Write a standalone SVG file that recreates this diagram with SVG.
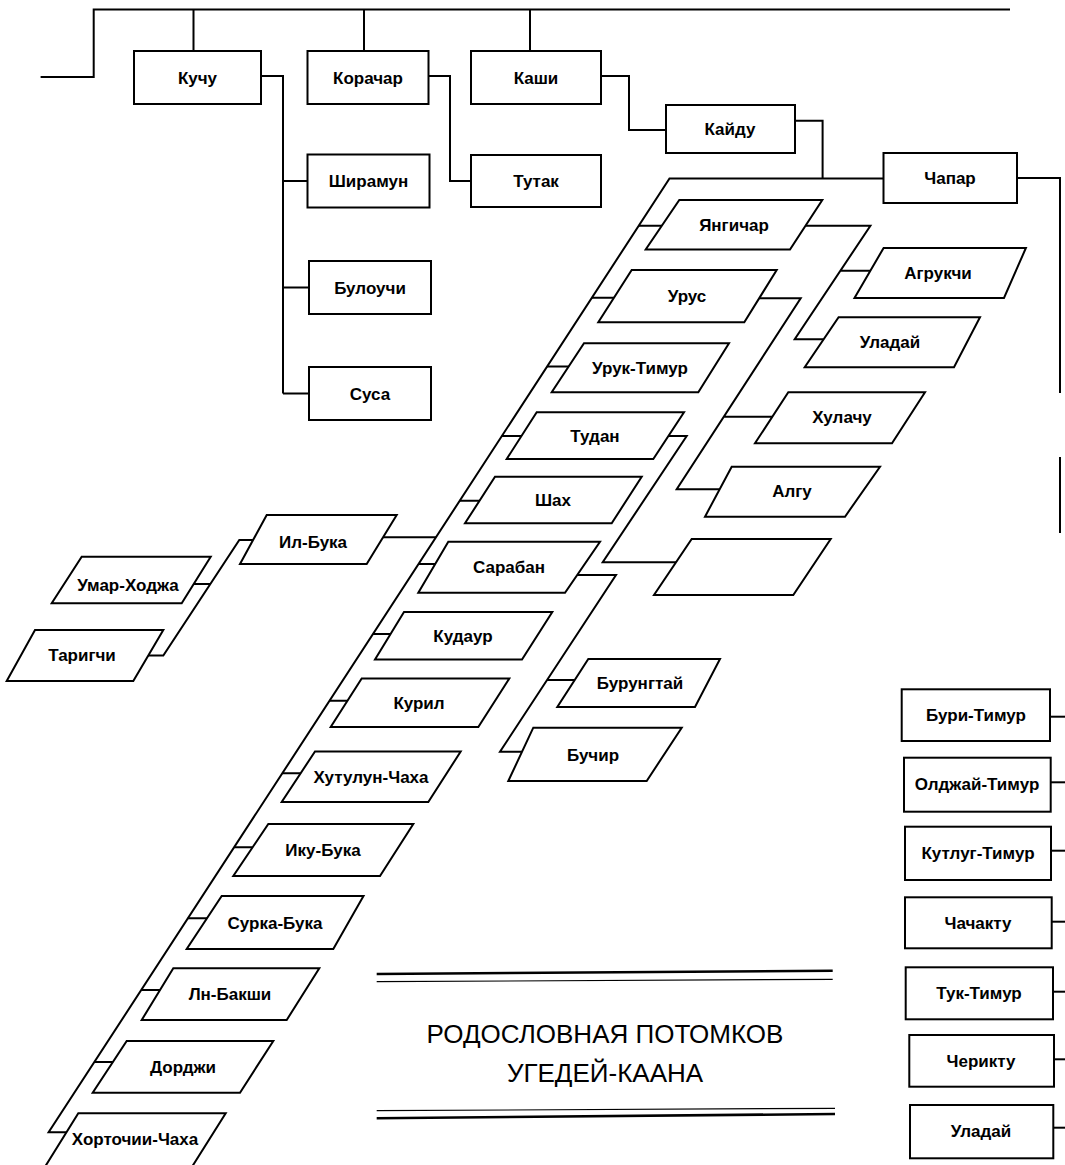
<svg xmlns="http://www.w3.org/2000/svg" width="1065" height="1165" viewBox="0 0 1065 1165">
<style>
.bx{fill:#fff;stroke:#000;stroke-width:2;stroke-linejoin:miter}
.ln{fill:none;stroke:#000;stroke-width:2;stroke-linejoin:miter}
.t{font-family:"Liberation Sans",Arial,sans-serif;font-size:17px;font-weight:bold;text-anchor:middle;fill:#000}
.ti{font-family:"Liberation Sans",Arial,sans-serif;font-size:26px;text-anchor:middle;fill:#000}
</style>
<rect width="1065" height="1165" fill="#fff"/>
<g id="connectors">
<path class="ln" d="M40.6,77 H93.7 V9.5 H1010"/>
<path class="ln" d="M193.5,9.5 V51 M364,9.5 V51 M530,9.5 V51"/>
<path class="ln" d="M261,76 H283 V393.5 M283,181 H307.5 M283,287.5 H309 M283,393.5 H309"/>
<path class="ln" d="M428.5,76 H450 V181 H471"/>
<path class="ln" d="M601,76 H629 V130 H666"/>
<path class="ln" d="M795,120.7 H822.6 V178.5"/>
<path class="ln" d="M883.5,178.5 H669.5 L48.6,1132.3 H66.7"/>
<path class="ln" d="M1017,178 H1060 V393 M1060,457 V533"/>
<path class="ln" d="M638.8,225.7 H661.9 M591.9,297.7 H614 M547.1,366.5 H568.7 M501.9,436 H521.5 M459.7,500.7 H479.5 M418.5,564 H435.2 M373,634 H390.6 M329.5,700.7 H347.5 M282.3,773.3 H300.6 M234.1,847.3 H252.6 M187.9,918.3 H207 M141.2,990 H160 M94.3,1062 H112.9"/>
<path class="ln" d="M383,537.3 H436"/>
<path class="ln" d="M253,540 H239.3 L163.3,655.5 H148 M193.7,584 H210.5"/>
<path class="ln" d="M805.5,225.7 H870.4 L794.7,339.3 H823.7 M840.4,270.7 H870.4"/>
<path class="ln" d="M759.2,298.3 H800.7 L676.7,489.3 H719.6 M723.8,416.7 H772.4"/>
<path class="ln" d="M668.4,436 H686.7 L602.7,562.3 H676"/>
<path class="ln" d="M577,575 H616 L500,751.7 H522.2 M547.1,680 H575"/>
</g>
<g id="n-kuchu"><rect class="bx" x="134" y="51" width="127" height="53"/><text class="t" x="197.5" y="83.5">Кучу</text></g>
<g id="n-korachar"><rect class="bx" x="307.5" y="51" width="121" height="53"/><text class="t" x="368" y="83.5">Корачар</text></g>
<g id="n-kashi"><rect class="bx" x="471" y="51" width="130" height="53"/><text class="t" x="536" y="83.5">Каши</text></g>
<g id="n-shiramun"><rect class="bx" x="307.5" y="154.5" width="122" height="53"/><text class="t" x="368.5" y="187">Ширамун</text></g>
<g id="n-buluochi"><rect class="bx" x="309" y="261" width="122" height="53"/><text class="t" x="370" y="293.5">Булоучи</text></g>
<g id="n-susa"><rect class="bx" x="309" y="367" width="122" height="53"/><text class="t" x="370" y="399.5">Суса</text></g>
<g id="n-tutak"><rect class="bx" x="471" y="155" width="130" height="52"/><text class="t" x="536" y="187">Тутак</text></g>
<g id="n-kaydu"><rect class="bx" x="666" y="105" width="129" height="48"/><text class="t" x="730" y="135">Кайду</text></g>
<g id="n-chapar"><rect class="bx" x="883.5" y="153" width="133.5" height="50"/><text class="t" x="950" y="184">Чапар</text></g>
<g id="n-yangichar"><polygon class="bx" points="679.3,200 822.3,200 790,249.5 645.7,249.5"/><text class="t" x="734" y="231">Янгичар</text></g>
<g id="n-urus"><polygon class="bx" points="631.7,270 776.7,270 744.3,322.3 598.3,322.3"/><text class="t" x="687" y="302">Урус</text></g>
<g id="n-uruk-timur"><polygon class="bx" points="584,343.3 729,343.3 698.3,392.3 551.7,392.3"/><text class="t" x="640" y="374">Урук-Тимур</text></g>
<g id="n-tudan"><polygon class="bx" points="536.7,412.3 684,412.3 653.3,459 506.7,459"/><text class="t" x="595" y="442">Тудан</text></g>
<g id="n-shah"><polygon class="bx" points="495,476.7 641.7,476.7 611.7,523.3 465,523.3"/><text class="t" x="553" y="506">Шах</text></g>
<g id="n-saraban"><polygon class="bx" points="448.3,541.7 600,541.7 565,592.7 418.3,592.7"/><text class="t" x="509" y="573">Сарабан</text></g>
<g id="n-kudaur"><polygon class="bx" points="404,612 552.3,612 522,659.5 375,659.5"/><text class="t" x="463" y="642">Кудаур</text></g>
<g id="n-kuril"><polygon class="bx" points="361.7,678.5 509.3,678.5 478.3,727 330.7,727"/><text class="t" x="419" y="709">Курил</text></g>
<g id="n-khutulun"><polygon class="bx" points="315,751.5 460.7,751.5 428.3,802 281.7,802"/><text class="t" x="371" y="783">Хутулун-Чаха</text></g>
<g id="n-iku-buka"><polygon class="bx" points="268.3,824 413.3,824 380,876 233.3,876"/><text class="t" x="323" y="856">Ику-Бука</text></g>
<g id="n-surka-buka"><polygon class="bx" points="221.7,896 363.5,896 333.3,949 186.7,949"/><text class="t" x="275" y="928.5">Сурка-Бука</text></g>
<g id="n-an-bakshi"><polygon class="bx" points="173.3,968.3 319.3,968.3 286.7,1020 141.7,1020"/><text class="t" x="230" y="1000">Лн-Бакши</text></g>
<g id="n-dorji"><polygon class="bx" points="126.7,1041 273.3,1041 240,1092.7 92.7,1092.7"/><text class="t" x="183" y="1073">Дорджи</text></g>
<g id="n-khortochi"><polygon class="bx" points="78.3,1113.3 225.7,1113.3 190,1170 43,1170"/><text class="t" x="135" y="1145">Хорточии-Чаха</text></g>
<g id="n-agrukchi"><polygon class="bx" points="883.6,248 1025.9,248 1004,298 854.5,298"/><text class="t" x="938" y="279">Агрукчи</text></g>
<g id="n-uladay1"><polygon class="bx" points="838.6,317.3 980,317.3 954,367.3 804.7,367.3"/><text class="t" x="890" y="348">Уладай</text></g>
<g id="n-khulachu"><polygon class="bx" points="788.3,392.3 925,392.3 892,443.3 755,443.3"/><text class="t" x="842" y="423">Хулачу</text></g>
<g id="n-algu"><polygon class="bx" points="731.7,466.7 880,466.7 845,516.7 705,516.7"/><text class="t" x="792" y="497">Алгу</text></g>
<g id="n-empty"><polygon class="bx" points="691.7,539 830.7,539 793.3,595 654,595"/></g>
<g id="n-burungtay"><polygon class="bx" points="588.3,659 720,659 695,707 557.3,707"/><text class="t" x="640" y="689">Бурунгтай</text></g>
<g id="n-buchir"><polygon class="bx" points="533.3,727.7 681.7,727.7 646.7,781 508.3,781"/><text class="t" x="593" y="761">Бучир</text></g>
<g id="n-il-buka"><polygon class="bx" points="266.7,515 396.7,515 366.7,564 240,564"/><text class="t" x="313" y="548">Ил-Бука</text></g>
<g id="n-umar"><polygon class="bx" points="81.7,556.7 210.7,556.7 181.7,603.3 51.7,603.3"/><text class="t" x="128" y="591">Умар-Ходжа</text></g>
<g id="n-tarigchi"><polygon class="bx" points="35,630 163.3,630 133.3,681 6.7,681"/><text class="t" x="82" y="661">Таригчи</text></g>
<g id="n-buri-timur"><rect class="bx" x="901.7" y="689.3" width="148.3" height="51.7"/><text class="t" x="976" y="721">Бури-Тимур</text><path class="ln" d="M1050,716.7 H1065"/></g>
<g id="n-oljay-timur"><rect class="bx" x="904" y="757.7" width="146.7" height="54"/><text class="t" x="977" y="790">Олджай-Тимур</text><path class="ln" d="M1050.7,782.3 H1065"/></g>
<g id="n-kutlug-timur"><rect class="bx" x="905" y="826.7" width="146" height="53.3"/><text class="t" x="978" y="859">Кутлуг-Тимур</text><path class="ln" d="M1051,850.7 H1065"/></g>
<g id="n-chachaktu"><rect class="bx" x="905" y="897.3" width="146.7" height="51"/><text class="t" x="978" y="929">Чачакту</text><path class="ln" d="M1051.7,921.7 H1065"/></g>
<g id="n-tuk-timur"><rect class="bx" x="905.7" y="967.3" width="147.3" height="52"/><text class="t" x="979" y="999">Тук-Тимур</text><path class="ln" d="M1053,991.7 H1065"/></g>
<g id="n-cheriktu"><rect class="bx" x="909.3" y="1035" width="144.7" height="51.7"/><text class="t" x="981" y="1067">Черикту</text><path class="ln" d="M1054,1059.3 H1065"/></g>
<g id="n-uladay2"><rect class="bx" x="910" y="1105" width="143.3" height="53.3"/><text class="t" x="981" y="1137">Уладай</text><path class="ln" d="M1053.3,1127.7 H1065"/></g>
<g id="title">
<line x1="376.7" y1="974" x2="832.7" y2="970.7" stroke="#000" stroke-width="2.6"/>
<line x1="376.7" y1="981.7" x2="832.7" y2="979.3" stroke="#000" stroke-width="1.2"/>
<line x1="376.7" y1="1110.7" x2="835" y2="1108.3" stroke="#000" stroke-width="1.2"/>
<line x1="376.7" y1="1118.3" x2="835" y2="1114" stroke="#000" stroke-width="2.6"/>
<text class="ti" x="605" y="1042.7">РОДОСЛОВНАЯ ПОТОМКОВ</text>
<text class="ti" x="605" y="1081.7">УГЕДЕЙ-КААНА</text>
</g>
</svg>
